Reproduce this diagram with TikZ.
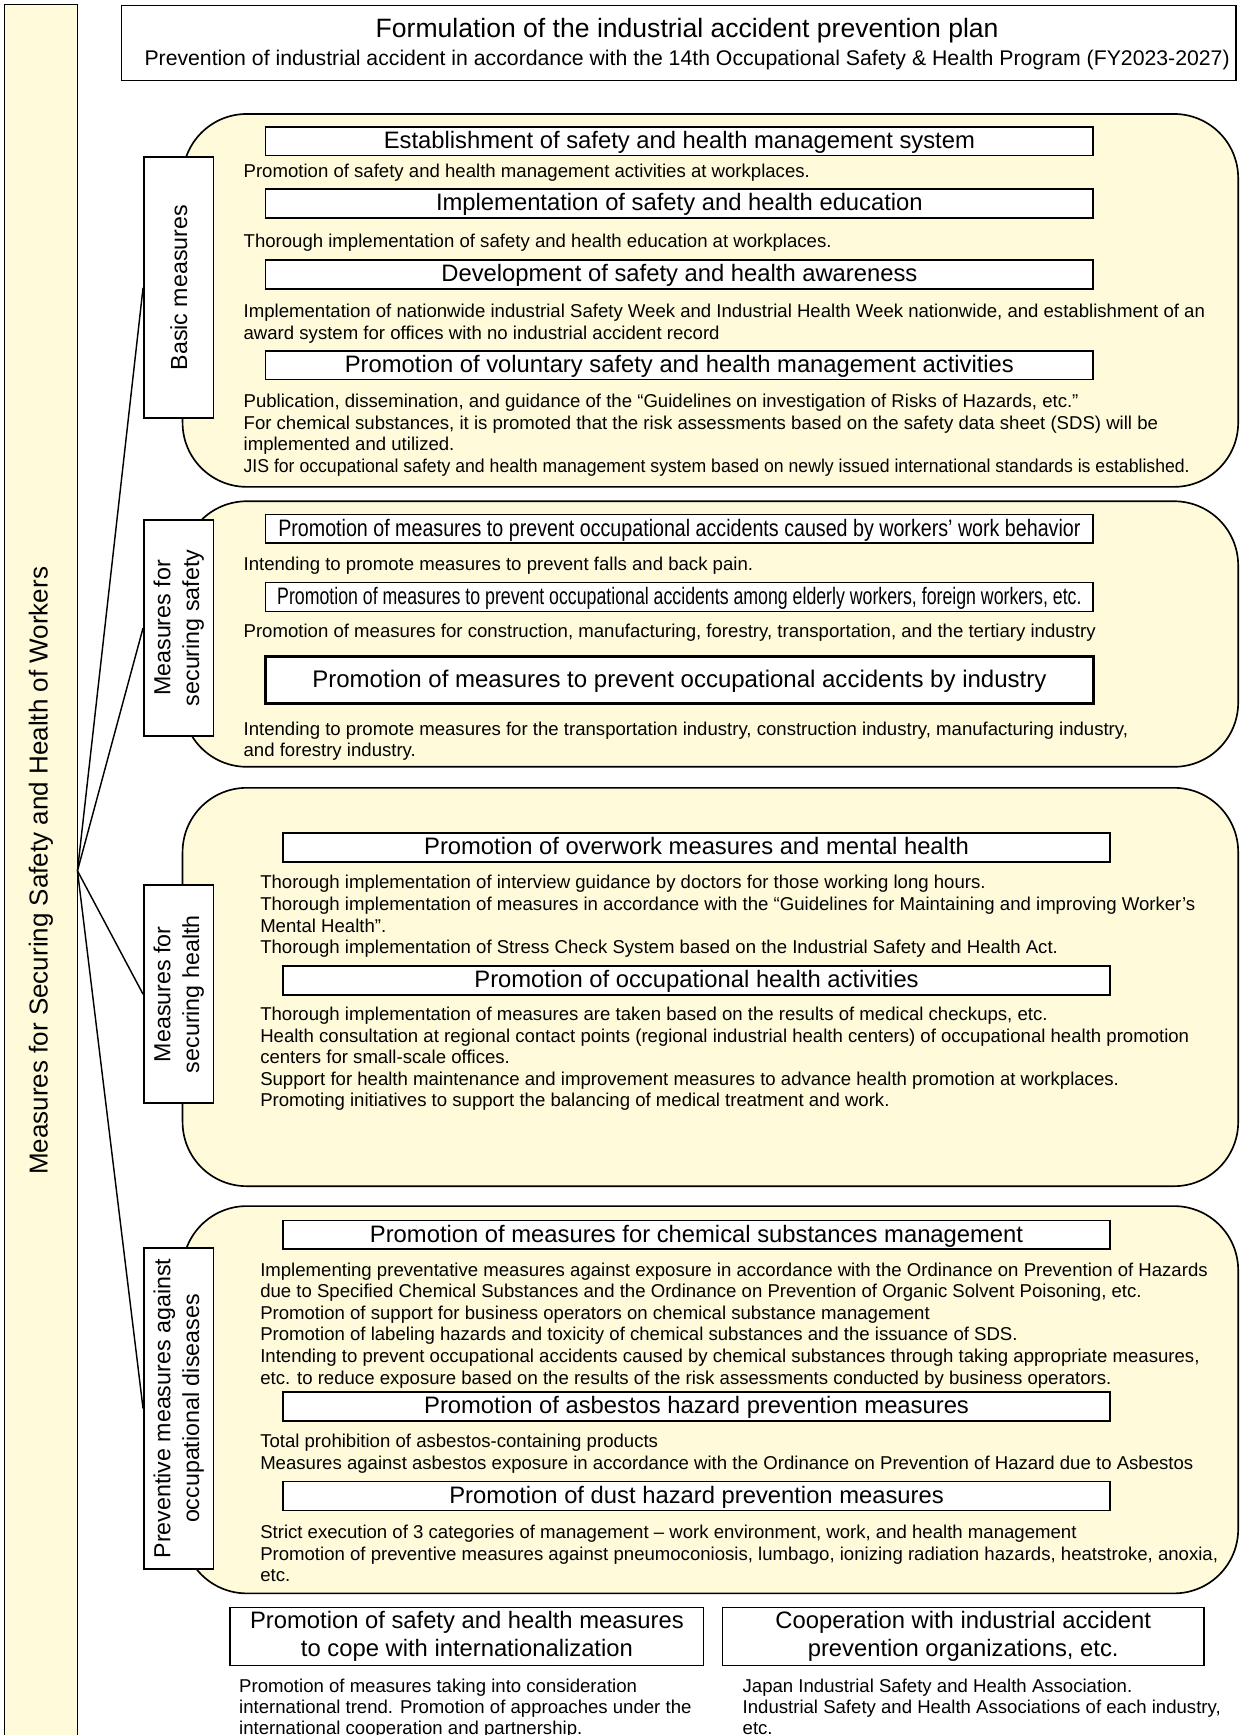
\documentclass[tikz,border=0pt]{standalone}
\usepackage{fontspec}
\setmainfont{Liberation Sans}
\usepackage{graphicx}
\usetikzlibrary{positioning}
\definecolor{cream}{RGB}{255,251,218}
\newcommand{\squeeze}[2]{\resizebox{#1}{\height}{#2}}
\tikzset{
  panel/.style={draw=black, line width=1.5pt, fill=cream, rounded corners=58pt},
  headbox/.style={draw=black, line width=1.5pt, fill=white, minimum height=26pt, minimum width=748pt, inner sep=0pt, text height=15.5pt, text depth=2.5pt, font=\fontsize{21.5}{24}\selectfont},
  sidebox/.style={draw=black, line width=1.4pt, fill=white, rotate=90, minimum height=63pt, inner sep=2pt, align=center, font=\fontsize{21}{26}\selectfont},
  note/.style={anchor=north west, inner sep=0pt, align=left, font=\fontsize{16.8}{19.5}\selectfont},
  fan/.style={line width=1.3pt},
}

\begin{document}
\begin{tikzpicture}[x=1pt,y=-1pt]
\useasboundingbox (0,0) rectangle (1120,1568);

% left bar
\draw[line width=1.3pt, fill=cream] (4,4) rectangle (70,1600);
\node[rotate=90, font=\fontsize{23.5}{26}\selectfont] (workers) at (37,787) {Measures for Securing Safety and Health of Workers};
\coordinate (hub) at (70,787);

% plan
\node[draw, line width=1.3pt, minimum width=1007pt, minimum height=68pt] (plan) at (613.5,39) {};
\node[font=\fontsize{24}{26}\selectfont] (title) at (621,28) {Formulation of the industrial accident prevention plan};
\node[font=\fontsize{19.2}{22}\selectfont] (subtitle) at (621,54.5) {Prevention of industrial accident in accordance with the 14th Occupational Safety \& Health Program (FY2023-2027)};

% panels
\draw[panel] (165,103) rectangle (1119,440);
\draw[panel] (165,453) rectangle (1119,693);
\draw[panel] (165,712) rectangle (1119,1072);
\draw[panel] (165,1090) rectangle (1119,1440);

% basic measures
\node[headbox] (sys) at (614,127.5) {Establishment of safety and health management system};
\node[note] (n11) at (220,148) {Promotion of safety and health management activities at workplaces.};
\node[headbox] (edu) at (614,184) {Implementation of safety and health education};
\node[note] (n12) at (220,211) {Thorough implementation of safety and health education at workplaces.};
\node[headbox] (aware) at (614,248) {Development of safety and health awareness};
\node[note] (n13) at (220,275) {Implementation of nationwide industrial Safety Week and Industrial Health Week nationwide, and establishment of an\\award system for offices with no industrial accident record};
\node[headbox] (volun) at (614,330) {Promotion of voluntary safety and health management activities};
\node[note] (n14) at (220,356) {Publication, dissemination, and guidance of the “Guidelines on investigation of Risks of Hazards, etc.”\\For chemical substances, it is promoted that the risk assessments based on the safety data sheet (SDS) will be\\implemented and utilized.\\\squeeze{855pt}{JIS for occupational safety and health management system based on newly issued international standards is established.}};

% securing safety
\node[headbox] (behav) at (614,478) {\squeeze{725pt}{Promotion of measures to prevent occupational accidents caused by workers' work behavior}};
\node[note] (n21) at (220,503) {Intending to promote measures to prevent falls and back pain.};
\node[headbox] (elder) at (614,539.5) {\squeeze{727pt}{Promotion of measures to prevent occupational accidents among elderly workers, foreign workers, etc.}};
\node[note] (n22) at (220,564) {Promotion of measures for construction, manufacturing, forestry, transportation, and the tertiary industry};
\node[headbox, line width=2.5pt, minimum height=43pt, font=\fontsize{21.7}{24}\selectfont] (industry) at (614,614.5) {Promotion of measures to prevent occupational accidents by industry};
\node[note] (n23) at (220,652) {Intending to promote measures for the transportation industry, construction industry, manufacturing industry,\\and forestry industry.};

% securing health
\node[headbox, minimum width=747pt] (overwork) at (629.5,766) {Promotion of overwork measures and mental health};
\node[note] (n31) at (235,791) {Thorough implementation of interview guidance by doctors for those working long hours.\\Thorough implementation of measures in accordance with the “Guidelines for Maintaining and improving Worker’s\\Mental Health”.\\Thorough implementation of Stress Check System based on the Industrial Safety and Health Act.};
\node[headbox, minimum width=747pt] (occup) at (629.5,886) {Promotion of occupational health activities};
\node[note] (n32) at (235,910) {Thorough implementation of measures are taken based on the results of medical checkups, etc.\\Health consultation at regional contact points (regional industrial health centers) of occupational health promotion\\centers for small-scale offices.\\Support for health maintenance and improvement measures to advance health promotion at workplaces.\\Promoting initiatives to support the balancing of medical treatment and work.};

% occupational diseases
\node[headbox, minimum width=747pt] (chem) at (629.5,1116) {Promotion of measures for chemical substances management};
\node[note] (n41) at (235,1141) {Implementing preventative measures against exposure in accordance with the Ordinance on Prevention of Hazards\\due to Specified Chemical Substances and the Ordinance on Prevention of Organic Solvent Poisoning, etc.\\Promotion of support for business operators on chemical substance management\\Promotion of labeling hazards and toxicity of chemical substances and the issuance of SDS.\\Intending to prevent occupational accidents caused by chemical substances through taking appropriate measures,\\etc. to reduce exposure based on the results of the risk assessments conducted by business operators.};
\node[headbox, minimum width=747pt] (asbestos) at (629.5,1271) {Promotion of asbestos hazard prevention measures};
\node[note] (n42) at (235,1296) {Total prohibition of asbestos-containing products\\Measures against asbestos exposure in accordance with the Ordinance on Prevention of Hazard due to Asbestos};
\node[headbox, minimum width=747pt] (dust) at (629.5,1352) {Promotion of dust hazard prevention measures};
\node[note] (n43) at (235,1378) {Strict execution of 3 categories of management – work environment, work, and health management\\Promotion of preventive measures against pneumoconiosis, lumbago, ionizing radiation hazards, heatstroke, anoxia,\\etc.};

% side labels
\node[sidebox, minimum width=236pt] (basic) at (161.5,260) {Basic measures};
\node[sidebox, minimum width=195pt] (safety) at (161.5,567.5) {Measures for\\securing safety};
\node[sidebox, minimum width=197pt] (health) at (161.5,898.5) {Measures for\\securing health};
\node[sidebox, minimum width=290pt] (disease) at (161.5,1273) {Preventive measures against\\occupational diseases};

\foreach \s in {basic,safety,health,disease}
  \draw[fan] (hub) -- (\s.north);

% bottom
\node[draw, line width=1.3pt, minimum width=428pt, minimum height=52pt, inner sep=0pt, align=center, font=\fontsize{21.5}{25}\selectfont] (intl) at (422,1479) {Promotion of safety and health measures\\to cope with internationalization};
\node[draw, line width=1.3pt, minimum width=435pt, minimum height=52pt, inner sep=0pt, align=center, font=\fontsize{21.5}{25}\selectfont] (coop) at (870.5,1479) {Cooperation with industrial accident\\prevention organizations, etc.};
\node[note, font=\fontsize{16.8}{19}\selectfont] (n51) at (216,1517) {Promotion of measures taking into consideration\\international trend. Promotion of approaches under the\\international cooperation and partnership.};
\node[note, font=\fontsize{16.8}{19}\selectfont] (n52) at (671,1517) {Japan Industrial Safety and Health Association.\\Industrial Safety and Health Associations of each industry,\\etc.};
\end{tikzpicture}
\end{document}
